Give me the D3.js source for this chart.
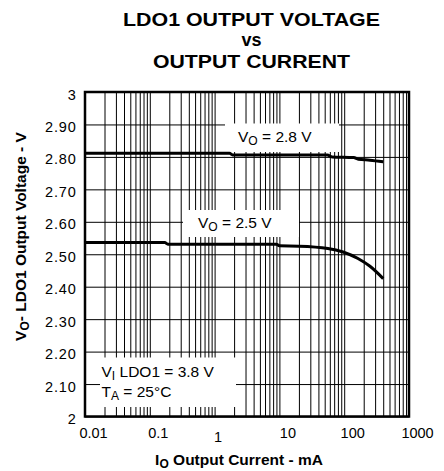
<!DOCTYPE html>
<html>
<head>
<meta charset="utf-8">
<script src="https://cdn.jsdelivr.net/npm/d3@7"></script>
<style>
  html, body { margin: 0; padding: 0; background: #fff; }
  svg { display: block; }
  text { font-family: Arial, "Liberation Sans", Helvetica, sans-serif; fill: #000; }
</style>
</head>
<body>
<svg id="chart" width="444" height="471"></svg>
<script>
// ---------- data ----------
const titleLines = ["LDO1 OUTPUT VOLTAGE", "vs", "OUTPUT CURRENT"];
const xTickValues = [0.01, 0.1, 1, 10, 100, 1000];
const xTickLabels = ["0.01", "0.1", "1", "10", "100", "1000"];
const yTickValues = [2, 2.1, 2.2, 2.3, 2.4, 2.5, 2.6, 2.7, 2.8, 2.9, 3];
const yTickLabels = ["2", "2.10", "2.20", "2.30", "2.40", "2.50", "2.60", "2.70", "2.80", "2.90", "3"];

// Output current (mA) and output voltage (V) for each series
const vo28Current = [0.01, 1.7, 1.9, 55, 65, 140, 165, 250, 400];
const vo28Voltage = [2.811, 2.811, 2.806, 2.806, 2.800, 2.798, 2.793, 2.790, 2.785];
const vo25Current = [0.01, 0.17, 0.19, 9, 10, 20, 56, 96, 163, 250, 400];
const vo25Voltage = [2.536, 2.536, 2.531, 2.531, 2.526, 2.525, 2.518, 2.507, 2.487, 2.463, 2.425];

// ---------- layout ----------
const svg = d3.select("#chart");
const L = 85, R = 409, T = 92, B = 416.5;
const x = d3.scaleLog().domain([0.01, 1000]).range([L, R]);
const y = d3.scaleLinear().domain([2, 3]).range([B, T]);

// grid values (1..9 per decade)
const gridX = [];
[0.01, 0.1, 1, 10, 100].forEach(d => { for (let k = 1; k <= 9; k++) gridX.push(+(d * k).toPrecision(3)); });
gridX.push(1000);

// vertical grid
svg.append("g")
  .attr("transform", `translate(0,${B})`)
  .call(d3.axisBottom(x).tickValues(gridX).tickSize(-(B - T)).tickFormat(""))
  .call(g => g.select(".domain").remove())
  .call(g => g.selectAll("line").attr("stroke", "#000").attr("stroke-width", 1));

// horizontal grid
svg.append("g")
  .attr("transform", `translate(${L},0)`)
  .call(d3.axisLeft(y).tickValues(yTickValues).tickSize(-(R - L)).tickFormat(""))
  .call(g => g.select(".domain").remove())
  .call(g => g.selectAll("line").attr("stroke", "#000").attr("stroke-width", 1));

// label boxes (white, hiding grid)
const boxes = [
  { x0: 225, y0: 123.5, x1: 339, y1: 152 },
  { x0: 183, y0: 210, x1: 299, y1: 237 },
  { x0: 100, y0: 357.5, x1: 236, y1: 407 }
];
svg.append("g").selectAll("rect").data(boxes).join("rect")
  .attr("x", d => d.x0).attr("y", d => d.y0)
  .attr("width", d => d.x1 - d.x0).attr("height", d => d.y1 - d.y0)
  .attr("fill", "#fff");

// frame
svg.append("rect")
  .attr("x", L).attr("y", T).attr("width", R - L).attr("height", B - T)
  .attr("fill", "none").attr("stroke", "#000").attr("stroke-width", 2.5);

// curves
const line = d3.line().x(d => x(d[0])).y(d => y(d[1])).curve(d3.curveMonotoneX);
const s28 = vo28Current.map((c, i) => [c, vo28Voltage[i]]);
const s25 = vo25Current.map((c, i) => [c, vo25Voltage[i]]);
[s28, s25].forEach(s => {
  svg.append("path").datum(s).attr("d", line)
    .attr("fill", "none").attr("stroke", "#000").attr("stroke-width", 3)
    .attr("stroke-linejoin", "round");
});

// x tick labels
const xAx = svg.append("g")
  .attr("transform", `translate(0,${B})`)
  .call(d3.axisBottom(x).tickValues(xTickValues).tickSize(0).tickPadding(0)
    .tickFormat((d, i) => xTickLabels[i]));
xAx.select(".domain").remove();
xAx.selectAll("text")
  .attr("font-size", 14.5).attr("font-family", "Arial, 'Liberation Sans', sans-serif")
  .attr("dy", 0)
  .attr("y", (d, i) => xTickLabels[i] === "1" ? 25 : 21.5)
  .attr("x", (d, i) => xTickLabels[i] === "1" ? 3 : 8);

// y tick labels
const yAx = svg.append("g")
  .attr("transform", `translate(${L},0)`)
  .call(d3.axisLeft(y).tickValues(yTickValues).tickSize(0).tickPadding(0)
    .tickFormat((d, i) => yTickLabels[i]));
yAx.select(".domain").remove();
yAx.selectAll("text")
  .attr("font-size", 14.5).attr("font-family", "Arial, 'Liberation Sans', sans-serif")
  .attr("letter-spacing", 0.8)
  .attr("x", -8.5).attr("dy", 0).attr("y", 7);

// series labels
function labelText(xp, yp, main, sub, rest, size) {
  const t = svg.append("text").attr("x", xp).attr("y", yp).attr("font-size", size);
  t.append("tspan").text(main);
  t.append("tspan").attr("font-size", size * 0.78).attr("dy", 3).text(sub);
  t.append("tspan").attr("dy", -3).text(rest);
  return t;
}
labelText(238, 141.7, "V", "O", " = 2.8 V", 15.5);
labelText(198, 228.3, "V", "O", " = 2.5 V", 15.5);
labelText(101.5, 376.5, "V", "I", " LDO1 = 3.8 V", 15.5);
labelText(101.5, 396.5, "T", "A", " = 25°C", 15.5);

// title
const ty = [25.5, 46, 67.5];
const tw = [257, null, 197];
titleLines.forEach((s, i) => {
  const t = svg.append("text").attr("x", 251.5).attr("y", ty[i])
    .attr("text-anchor", "middle").attr("font-size", 18).attr("font-weight", "bold")
    .text(s);
  if (tw[i]) t.attr("textLength", tw[i]).attr("lengthAdjust", "spacingAndGlyphs");
});

// x axis title
const xt = svg.append("text").attr("x", 239).attr("y", 465)
  .attr("text-anchor", "middle").attr("font-size", 15.5).attr("font-weight", "bold");
xt.append("tspan").text("I");
xt.append("tspan").attr("font-size", 12).attr("dy", 3).text("O");
xt.append("tspan").attr("dy", -3).text(" Output Current - mA");

// y axis title
const yt = svg.append("text")
  .attr("transform", "translate(26,236.5) rotate(-90)")
  .attr("text-anchor", "middle").attr("font-size", 15.5).attr("font-weight", "bold");
yt.append("tspan").text("V");
yt.append("tspan").attr("font-size", 12).attr("dy", 3).text("O");
yt.append("tspan").attr("dy", -3).text("- LDO1 Output Voltage - V");
</script>
</body>
</html>
